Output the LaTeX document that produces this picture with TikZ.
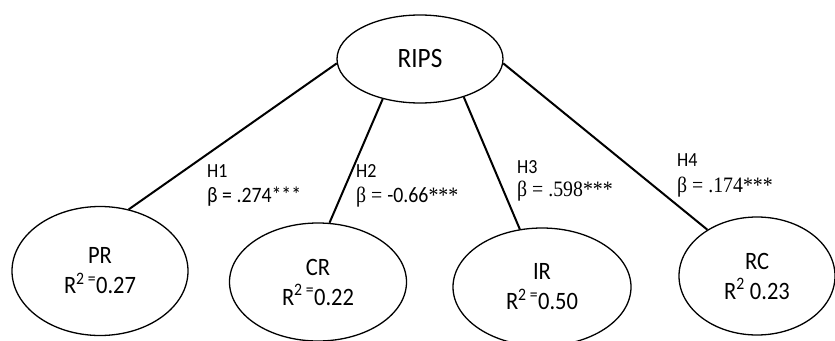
\documentclass[tikz,border=0pt]{standalone}
\usepackage{fontspec}
\setmainfont[FakeStretch=0.9]{Carlito}
\newfontfamily\tnr[FakeStretch=0.9]{Liberation Serif}
\usetikzlibrary{shapes.geometric}
\begin{document}
\begin{tikzpicture}[x=1pt, y=-1pt,
  latent/.style={ellipse, draw, line width=1.3pt, inner sep=0pt, align=center,
    font=\fontsize{25}{30}\selectfont},
  hyp/.style={anchor=base west, inner sep=0pt, font=\fontsize{20}{21}\selectfont},
  coef/.style={anchor=base west, inner sep=0pt, font=\fontsize{22}{24}\selectfont},
  link/.style={line width=2pt}]
\useasboundingbox (0,0) rectangle (835,340);
\node[latent, minimum width=166pt, minimum height=88pt, font=\fontsize{28}{30}\selectfont] (RIPS) at (420,59) {RIPS};
\node[latent, minimum width=176pt, minimum height=129pt] (PR) at (100,271) {PR\\R\textsuperscript{2 =}0.27};
\node[latent, minimum width=177pt, minimum height=118pt] (CR) at (318,282) {CR\\R\textsuperscript{2 =}0.22};
\node[latent, minimum width=178pt, minimum height=118pt] (IR) at (542,287) {IR\\R\textsuperscript{2 =}0.50};
\node[latent, minimum width=156pt, minimum height=118pt] (RC) at (757,276) {RC\\R\textsuperscript{2} 0.23};

\draw[link] (RIPS.183) -- (PR.65);
\draw[link] (RIPS.227) -- (CR.79);
\draw[link] (RIPS.319) -- (IR.111);
\draw[link] (RIPS.357) -- (RC.137);

% hypothesis labels
\node[hyp] (H1) at (207,177) {H1};
\node[coef] (B1) at (207,202) {β = .274***};
\node[hyp] (H2) at (356,177) {H2};
\node[coef] (B2) at (356,202) {{\tnr β = }-0.66{\tnr ***}};
\node[hyp] (H3) at (517,173) {H3};
\node[coef] (B3) at (517,196) {\tnr β = .598***};
\node[hyp] (H4) at (677,166) {H4};
\node[coef] (B4) at (677,192) {\tnr β = .174***};
\end{tikzpicture}
\end{document}
